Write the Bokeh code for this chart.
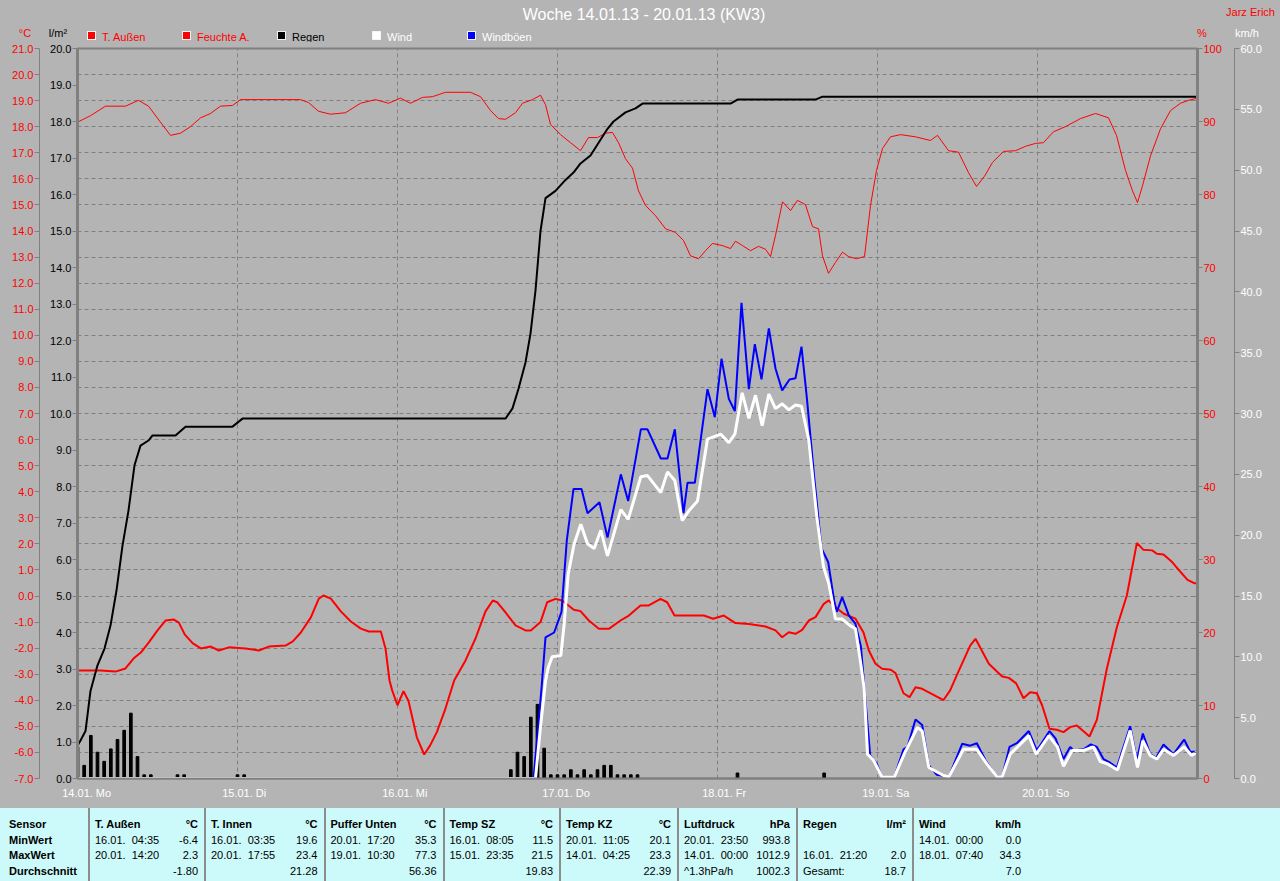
from bokeh.plotting import figure
from bokeh.models import Range1d, LinearAxis, FixedTicker, PrintfTickFormatter, CustomJSTickFormatter, Div
from bokeh.layouts import column
from bokeh.embed import file_html
from bokeh.resources import INLINE

# ---------------- data ----------------
title = "Woche 14.01.13 - 20.01.13 (KW3)"
author = "Jarz Erich"
days = ["14.01. Mo", "15.01. Di", "16.01. Mi", "17.01. Do", "18.01. Fr", "19.01. Sa", "20.01. So"]
legend_names = ["T. Außen", "Feuchte A.", "Regen", "Wind", "Windböen"]

# hours since 14.01. 00:00
temp_h = [0, 3.5, 5.7, 7.2, 8.4, 9.5, 10.7, 12.0, 13.2, 14.4, 15.2, 16.1, 17.3, 18.5, 20.0, 21.2, 22.7, 25.2, 27.2, 28.7,
          31.2, 32.3, 33.5, 35.0, 36.2, 36.9, 38.0, 39.5, 41.0, 42.5, 43.7, 45.5, 46.2, 46.8, 47.2, 48.0, 48.9, 49.65, 50.9, 52.0,
          52.9, 53.9, 55.1, 56.5, 58.2, 59.7, 61.2, 62.3, 63.0, 64.2, 65.7, 67.2, 68.0, 69.45, 70.45, 71.7, 72.7, 74.45, 75.45, 76.7,
          78.2, 79.7, 81.45, 82.7, 84.45, 85.7, 87.45, 88.45, 89.55, 93.95, 95.35, 96.95, 98.7, 100.7, 103.2, 104.7, 105.7, 106.7, 107.7, 108.7,
          109.7, 110.7, 111.95, 112.7, 113.7, 114.95, 116.7, 117.9, 118.7, 119.7, 120.7, 122.0, 122.7, 123.9, 124.8, 125.7, 126.7, 129.9, 130.9, 132.0,
          133.9, 134.7, 136.7, 138.7, 139.7, 140.8, 141.9, 142.9, 143.9, 144.7, 145.8, 146.9, 147.9, 148.9, 149.9, 150.9, 151.8, 152.9, 154.4, 155.9,
          157.4, 158.9, 159.9, 161.2, 161.9, 162.9, 164.2, 165.5, 166.5, 167.5, 168]
temp_c = [-2.86, -2.86, -2.9, -2.78, -2.40, -2.17, -1.78, -1.32, -0.94, -0.90, -1.02, -1.48, -1.82, -2.01, -1.94, -2.09, -1.97, -2.01, -2.09, -1.94,
          -1.90, -1.74, -1.40, -0.82, -0.10, 0.02, -0.10, -0.59, -0.98, -1.25, -1.36, -1.36, -2.01, -3.24, -3.62, -4.19, -3.65, -4.03, -5.42, -6.08,
          -5.73, -5.22, -4.39, -3.24, -2.47, -1.63, -0.59, -0.17, -0.25, -0.63, -1.13, -1.32, -1.32, -1.0, -0.24, -0.11, -0.17, -0.53, -0.58, -0.94,
          -1.26, -1.26, -0.94, -0.75, -0.36, -0.36, -0.11, -0.24, -0.75, -0.75, -0.87, -0.75, -1.04, -1.07, -1.17, -1.32, -1.58, -1.39, -1.45, -1.30,
          -0.94, -0.81, -0.30, -0.17, -0.43, -0.68, -0.87, -1.40, -2.09, -2.60, -2.79, -2.83, -2.96, -3.73, -3.88, -3.50, -3.56, -3.99, -3.62, -2.98,
          -1.90, -1.64, -2.60, -3.09, -3.14, -3.35, -3.92, -3.69, -3.73, -4.20, -5.09, -5.13, -5.22, -5.03, -4.97, -5.19, -5.39, -4.75, -2.79, -1.20,
          0.02, 2.03, 1.77, 1.75, 1.62, 1.59, 1.30, 0.91, 0.62, 0.49, 0.49]

hum_h = [0, 1.95, 4.2, 7.2, 9.15, 10.65, 12.45, 13.95, 15.45, 16.95, 18.45, 19.95, 21.45, 23.25, 24.45, 33.45, 34.65, 36.15, 37.95, 40.2,
         42.45, 44.7, 46.65, 48.45, 49.95, 51.75, 53.25, 55.2, 58.95, 60.45, 61.95, 63.15, 64.2, 65.7, 66.75, 68.25, 69.45, 70.2, 70.95, 72.45,
         73.95, 75.45, 76.65, 78.0, 79.2, 80.25, 81.15, 82.2, 83.25, 84.15, 85.2, 86.7, 88.2, 89.7, 90.9, 91.95, 93.15, 94.2, 95.25, 96.75,
         97.95, 98.7, 99.75, 100.95, 102.15, 103.2, 103.95, 104.7, 105.75, 106.95, 108.0, 109.2, 110.25, 111.15, 111.75, 112.65, 113.7, 114.75, 115.65, 116.85,
         118.05, 118.95, 119.85, 120.75, 121.95, 123.45, 125.7, 127.95, 129.0, 130.65, 132.15, 133.65, 134.85, 136.05, 137.25, 138.9, 140.7, 142.2, 143.7, 144.9,
         146.4, 148.2, 150.45, 152.7, 154.65, 155.85, 157.2, 158.25, 159.0, 159.75, 160.95, 162.45, 163.95, 165.45, 166.65, 168]
hum_pct = [89.9, 90.8, 92.1, 92.1, 92.9, 92.1, 89.9, 88.1, 88.4, 89.3, 90.5, 91.1, 92.1, 92.2, 93.0, 93.0, 92.6, 91.4, 91.0, 91.2,
           92.5, 93.0, 92.5, 93.2, 92.5, 93.3, 93.4, 94.0, 94.0, 93.4, 91.5, 90.4, 90.3, 91.2, 92.5, 93.0, 93.6, 92.3, 89.6, 88.2,
           87.1, 86.0, 87.8, 87.8, 88.4, 88.5, 87.1, 84.9, 83.6, 80.5, 78.5, 77.1, 75.3, 74.8, 73.7, 71.6, 71.2, 72.3, 73.3, 73.0,
           72.6, 73.6, 73.0, 72.3, 72.9, 72.5, 71.5, 74.4, 79.0, 77.8, 79.2, 78.6, 75.6, 75.3, 71.6, 69.2, 70.7, 72.1, 71.5, 71.2,
           71.5, 78.5, 83.3, 86.3, 87.9, 88.2, 87.9, 87.4, 88.1, 86.0, 85.8, 83.0, 81.1, 82.5, 84.4, 85.9, 86.0, 86.6, 87.0, 87.1,
           88.6, 89.3, 90.4, 91.1, 90.5, 88.1, 83.3, 80.5, 78.9, 81.2, 85.3, 89.0, 91.5, 92.5, 92.9, 93.2]

rain_sum_h = [0, 0.45, 1.2, 1.95, 3.0, 4.05, 4.95, 5.85, 6.75, 7.65, 8.55, 9.45, 10.65, 11.25, 14.7, 16.2, 23.25, 24.75, 64.2, 65.25,
              66.15, 67.2, 67.95, 68.7, 69.45, 70.2, 71.7, 73.2, 74.4, 75.45, 76.95, 78.45, 79.5, 80.4, 82.2, 83.7, 84.75, 97.95, 99.0, 110.7,
              111.75, 168]
rain_sum = [0.90, 1.04, 1.3, 2.4, 3.1, 3.56, 4.19, 5.15, 6.38, 7.34, 8.58, 9.12, 9.26, 9.40, 9.40, 9.64, 9.64, 9.86, 9.86, 10.14,
            10.68, 11.4, 12.19, 13.37, 15.0, 15.9, 16.1, 16.4, 16.6, 16.85, 17.07, 17.5, 17.8, 18.0, 18.25, 18.36, 18.49, 18.49, 18.6, 18.6,
            18.68, 18.68]

rain_bar_h = [0, 1, 2, 3, 4, 5, 6, 7, 8, 9, 10, 11, 15, 16, 24, 25, 65, 66, 67, 68, 69, 70, 71, 72, 73, 74, 75, 76, 77, 78,
              79, 80, 81, 82, 83, 84, 99, 112]
rain_bar = [0.86, 0.36, 1.18, 0.72, 0.47, 0.81, 1.07, 1.32, 1.79, 0.60, 0.10, 0.10, 0.10, 0.10, 0.10, 0.10, 0.24, 0.72, 0.60, 1.68,
            2.03, 0.83, 0.10, 0.10, 0.10, 0.24, 0.10, 0.24, 0.10, 0.24, 0.36, 0.36, 0.10, 0.10, 0.10, 0.10, 0.15, 0.15]

gust_h = [0, 68.4, 68.9, 69.6, 70.2, 71.5, 72.6, 73.4, 74.4, 75.6, 76.5, 78.3, 79.5, 81.5, 82.6, 84.5, 85.5, 87.5, 88.5, 89.6,
          90.9, 91.5, 92.6, 94.5, 95.6, 96.6, 97.7, 98.6, 99.6, 100.7, 101.6, 102.6, 103.7, 104.7, 105.7, 106.8, 107.7, 108.6, 109.4, 110.5,
          111.6, 112.6, 113.5, 113.9, 114.7, 115.7, 116.7, 117.5, 118.9, 119.9, 120.7, 122.5, 123.9, 124.5, 125.7, 126.7, 127.7, 128.9, 130.7, 132.7,
          133.9, 134.9, 136.2, 137.7, 138.7, 139.8, 140.9, 142.7, 143.9, 145.8, 146.7, 147.9, 148.9, 149.4, 150.9, 152.0, 152.9, 153.9, 154.9, 155.9,
          157.9, 158.9, 159.8, 160.9, 161.8, 162.9, 164.4, 166.0, 166.9, 168]
gust_kmh = [0, 0, 3.0, 7.4, 11.6, 12.0, 13.7, 19.6, 23.8, 23.8, 21.8, 22.7, 19.8, 25.0, 22.8, 28.7, 28.7, 26.3, 26.3, 28.7,
            21.8, 24.3, 24.3, 32.0, 29.7, 34.5, 31.2, 30.2, 39.1, 32.0, 35.7, 32.8, 37.0, 33.7, 31.9, 32.8, 32.9, 35.5, 31.3, 24.8,
            18.9, 17.8, 14.6, 13.7, 14.9, 13.4, 12.7, 10.9, 1.9, 1.2, 0.1, 0.1, 2.4, 2.6, 4.85, 4.4, 1.1, 0.3, 0.15, 2.85,
            2.7, 2.9, 1.5, 0.25, 0.15, 2.6, 2.9, 3.9, 2.3, 3.9, 3.3, 1.6, 2.6, 2.3, 2.4, 2.8, 2.6, 1.6, 1.3, 0.9,
            4.3, 1.5, 3.7, 2.0, 1.7, 2.8, 2.0, 3.2, 2.2, 2.2]

wind_h = [0, 68.7, 69.4, 70.2, 70.6, 71.2, 72.5, 73.0, 73.6, 74.5, 75.5, 76.5, 77.5, 78.5, 79.5, 81.5, 82.6, 84.5, 85.5, 87.5,
          88.5, 89.6, 90.7, 91.7, 93.0, 94.5, 96.5, 97.7, 98.6, 99.7, 100.7, 101.7, 102.7, 103.7, 104.7, 105.7, 106.7, 107.7, 108.6, 109.7,
          110.9, 111.9, 112.7, 113.7, 114.7, 115.8, 116.7, 117.5, 118.0, 118.5, 119.4, 120.7, 122.5, 124.0, 126.0, 126.7, 127.7, 129.9, 130.7, 132.9,
          134.9, 136.4, 137.9, 138.7, 139.9, 142.7, 143.8, 145.7, 147.0, 147.9, 149.2, 150.9, 152.4, 153.4, 154.5, 156.0, 157.9, 159.0, 159.8, 160.9,
          161.9, 162.9, 164.4, 166.0, 167.1, 168]
wind_kmh = [0, 0, 4.0, 8.0, 9.1, 10.0, 10.1, 12.7, 16.8, 19.3, 20.9, 19.3, 18.9, 20.4, 18.3, 22.1, 21.3, 24.8, 24.9, 23.5,
            25.2, 24.5, 21.2, 22.0, 22.8, 27.9, 28.3, 27.6, 28.3, 31.7, 29.6, 31.5, 29.0, 31.6, 30.4, 30.8, 30.3, 30.7, 30.6, 27.8,
            21.5, 17.4, 16.0, 13.1, 13.1, 12.6, 12.3, 9.4, 7.4, 2.0, 1.5, 0.1, 0.1, 2.0, 4.2, 3.9, 0.9, 0.25, 0.15, 2.4,
            2.4, 1.2, 0.15, 0.15, 2.0, 3.5, 2.0, 3.5, 2.6, 1.0, 2.3, 2.3, 2.6, 1.4, 1.2, 0.7, 3.95, 0.9, 3.1, 1.9,
            1.6, 2.4, 1.9, 2.6, 1.9, 2.2]

# statistics table
tbl_rows = ["Sensor", "MinWert", "MaxWert", "Durchschnitt"]
tbl_groups = ["T. Außen", "T. Innen", "Puffer Unten", "Temp SZ", "Temp KZ", "Luftdruck", "Regen", "Wind"]
tbl_units = ["°C", "°C", "°C", "°C", "°C", "hPa", "l/m²", "km/h"]
tbl_min_time = ["16.01.  04:35", "16.01.  03:35", "20.01.  17:20", "16.01.  08:05", "20.01.  11:05", "20.01.  23:50", "", "14.01.  00:00"]
tbl_min_val = ["-6.4", "19.6", "35.3", "11.5", "20.1", "993.8", "", "0.0"]
tbl_max_time = ["20.01.  14:20", "20.01.  17:55", "19.01.  10:30", "15.01.  23:35", "14.01.  04:25", "14.01.  00:00", "16.01.  21:20", "18.01.  07:40"]
tbl_max_val = ["2.3", "23.4", "77.3", "21.5", "23.3", "1012.9", "2.0", "34.3"]
tbl_avg_text = ["", "", "", "", "", "^1.3hPa/h", "Gesamt:", ""]
tbl_avg_val = ["-1.80", "21.28", "56.36", "19.83", "22.39", "1002.3", "18.7", "7.0"]

# ---------------- styling / layout ----------------
FONT = "Liberation Sans"
BG = "#b4b4b4"
GRIDC = "#808080"
W = 1280
HH, CH, TH = 42, 766, 73          # header / chart / table heights
FL, FR, FT, FB = 77, 1197, 48, 778   # frame edges in page pixels
T0, T1 = -7, 21
HOURS = 168


def t2r(t):
    return (t - T0) * 20.0 / (T1 - T0)


def span(text, x, y, color, size=11, align="left", bold=False, extra=""):
    tx = {"left": "0", "center": "-50%", "right": "-100%"}[align]
    return ('<span style="position:absolute;left:%spx;top:%spx;transform:translate(%s,-50%%);color:%s;'
            "font-family:'%s',sans-serif;font-size:%spx;line-height:1.15;white-space:pre;font-weight:%s;%s\">%s</span>"
            % (x, y, tx, color, FONT, size, "bold" if bold else "normal", extra, text))


def box(x, y, w, h, color, extra=""):
    return ('<div style="position:absolute;left:%spx;top:%spx;width:%spx;height:%spx;background:%s;%s"></div>'
            % (x, y, w, h, color, extra))


# ---------------- header ----------------
hdr = [span(title, 644, 15, "#ffffff", size=16, align="center"),
       span(author, 1275, 12, "#ff0000", align="right"),
       span("°C", 25, 33, "#ff0000", align="center"),
       span("l/m²", 58, 33, "#000000", align="center"),
       span("%", 1202, 33, "#ff0000", align="center"),
       span("km/h", 1247, 33, "#ffffff", align="center")]
legend_sq = ["#ff0000", "#ff0000", "#000000", "#ffffff", "#0000ff"]
legend_tc = ["#ff0000", "#ff0000", "#000000", "#ffffff", "#ffffff"]
legend_x = [87, 182, 277, 372, 467]
for name, sc, tc, lx in zip(legend_names, legend_sq, legend_tc, legend_x):
    hdr.append(box(lx, 31, 9, 9, sc, "border:1px solid #f4f4f4;"))
    hdr.append(span(name, lx + 15, 36.5, tc))
header = Div(text='<div style="position:relative;width:%dpx;height:%dpx;background:%s;overflow:hidden;">%s</div>'
             % (W, HH, BG, "".join(hdr)), width=W, height=HH, margin=0,
             styles={"background-color": BG})

# ---------------- chart ----------------
top = HH
p = figure(width=W, height=CH, x_range=Range1d(0, HOURS), y_range=Range1d(0, 20),
           output_backend="svg", toolbar_location=None, margin=0,
           min_border_left=FL, min_border_right=W - FR,
           min_border_top=FT - top, min_border_bottom=top + CH - FB)
p.background_fill_color = BG
p.border_fill_color = BG
p.outline_line_color = GRIDC
p.outline_line_width = 2
p.extra_y_ranges = {"temp": Range1d(T0, T1), "hum": Range1d(0, 100), "wind": Range1d(0, 60)}

grid_t = list(range(T0 + 1, T1))
grid_r = [t2r(t) for t in grid_t]


def style_axis(ax, color, line_w):
    ax.axis_line_color = GRIDC
    ax.axis_line_width = line_w
    ax.major_tick_line_color = GRIDC
    ax.major_tick_out = 5
    ax.major_tick_in = 0
    ax.major_label_text_color = color
    ax.major_label_text_font = FONT
    ax.major_label_text_font_size = "11px"
    ax.major_label_standoff = 1


ya = p.yaxis[0]
ya.ticker = FixedTicker(ticks=list(range(0, 21)), minor_ticks=grid_r)
ya.formatter = PrintfTickFormatter(format="%.1f")
style_axis(ya, "black", 3)
ya.minor_tick_line_color = GRIDC
ya.minor_tick_in = 3
ya.minor_tick_out = 0
ya.axis_label = " "
ya.axis_label_text_font_size = "4px"
ya.axis_label_standoff = 0

ta = LinearAxis(y_range_name="temp", ticker=FixedTicker(ticks=list(range(T0, T1 + 1))),
                formatter=PrintfTickFormatter(format="%.1f"))
style_axis(ta, "red", 1)
ta.minor_tick_line_color = None
p.add_layout(ta, "left")

ha = LinearAxis(y_range_name="hum",
                ticker=FixedTicker(ticks=list(range(0, 101, 10)),
                                   minor_ticks=[(t - T0) * 100.0 / (T1 - T0) for t in grid_t]),
                formatter=PrintfTickFormatter(format="%d"))
style_axis(ha, "red", 3)
ha.minor_tick_line_color = GRIDC
ha.minor_tick_in = 4
ha.minor_tick_out = 0
ha.axis_label = " "
ha.axis_label_text_font_size = "7px"
ha.axis_label_standoff = 0
p.add_layout(ha, "right")

wa = LinearAxis(y_range_name="wind", ticker=FixedTicker(ticks=list(range(0, 61, 5))),
                formatter=PrintfTickFormatter(format="%.1f"))
style_axis(wa, "white", 1)
wa.minor_tick_line_color = None
p.add_layout(wa, "right")

# day labels: the date part is centred on the midnight line
hpp = HOURS / (FR - FL)   # hours per pixel
label_shift = [9.2, 6.7, 7.3, 8.5, 6.7, 8.3, 8.3]
xa = p.xaxis[0]
xa.ticker = FixedTicker(ticks=[24 * i + s * hpp for i, s in enumerate(label_shift)])
xa.formatter = CustomJSTickFormatter(args=dict(labels=days), code="return labels[Math.floor(tick / 24)];")
xa.axis_line_color = GRIDC
xa.axis_line_width = 2
xa.major_tick_line_color = None
xa.minor_tick_line_color = None
xa.major_tick_out = 0
xa.major_tick_in = 0
xa.major_label_text_color = "white"
xa.major_label_text_font = FONT
xa.major_label_text_font_size = "11px"
xa.major_label_standoff = 8

p.xgrid.ticker = FixedTicker(ticks=[24 * i for i in range(1, 7)])
p.ygrid.ticker = FixedTicker(ticks=grid_r)
for g in (p.xgrid, p.ygrid):
    g.grid_line_color = GRIDC
    g.grid_line_dash = "4 3"
    g.grid_line_width = 1

p.line(hum_h, hum_pct, y_range_name="hum", line_color="#ff0000", line_width=1)
p.line(temp_h, temp_c, y_range_name="temp", line_color="#ff0000", line_width=2)
p.line(rain_sum_h, rain_sum, line_color="black", line_width=2)
p.vbar(x=rain_bar_h, top=rain_bar, bottom=0, width=0.4, fill_color="black", line_color="black")
p.line(gust_h, gust_kmh, y_range_name="wind", line_color="#0000ff", line_width=2)
p.line(wind_h, wind_kmh, y_range_name="wind", line_color="white", line_width=3)

# ---------------- statistics table ----------------
seps = [89, 205, 324.5, 443.5, 560, 678, 797, 913]
right_edges = seps[1:] + [1028]
row_y = [15.5, 31.5, 47, 62.5]
cells = [box(s - 1, 0, 2, TH, "#8c8c8c") for s in seps]
for i, rname in enumerate(tbl_rows):
    cells.append(span(rname, 9, row_y[i], "#000000", bold=True))
for g in range(len(tbl_groups)):
    xl = seps[g] + 6
    xr = right_edges[g] - 7
    cells.append(span(tbl_groups[g], xl, row_y[0], "#000000", bold=True))
    cells.append(span(tbl_units[g], xr, row_y[0], "#000000", bold=True, align="right"))
    for ri, (lt, rt) in enumerate([(tbl_min_time[g], tbl_min_val[g]),
                                   (tbl_max_time[g], tbl_max_val[g]),
                                   (tbl_avg_text[g], tbl_avg_val[g])]):
        if lt:
            cells.append(span(lt, xl, row_y[ri + 1], "#000000"))
        if rt:
            cells.append(span(rt, xr, row_y[ri + 1], "#000000", align="right"))
table = Div(text='<div style="position:relative;width:%dpx;height:%dpx;background:#ccf9f9;overflow:hidden;">%s</div>'
            % (W, TH, "".join(cells)), width=W, height=TH, margin=0,
            styles={"background-color": "#ccf9f9"})

layout = column(header, p, table, spacing=0, margin=0, styles={"background-color": BG})
open("out.html", "w", encoding="utf-8").write(file_html(layout, INLINE, title="Woche KW3"))
